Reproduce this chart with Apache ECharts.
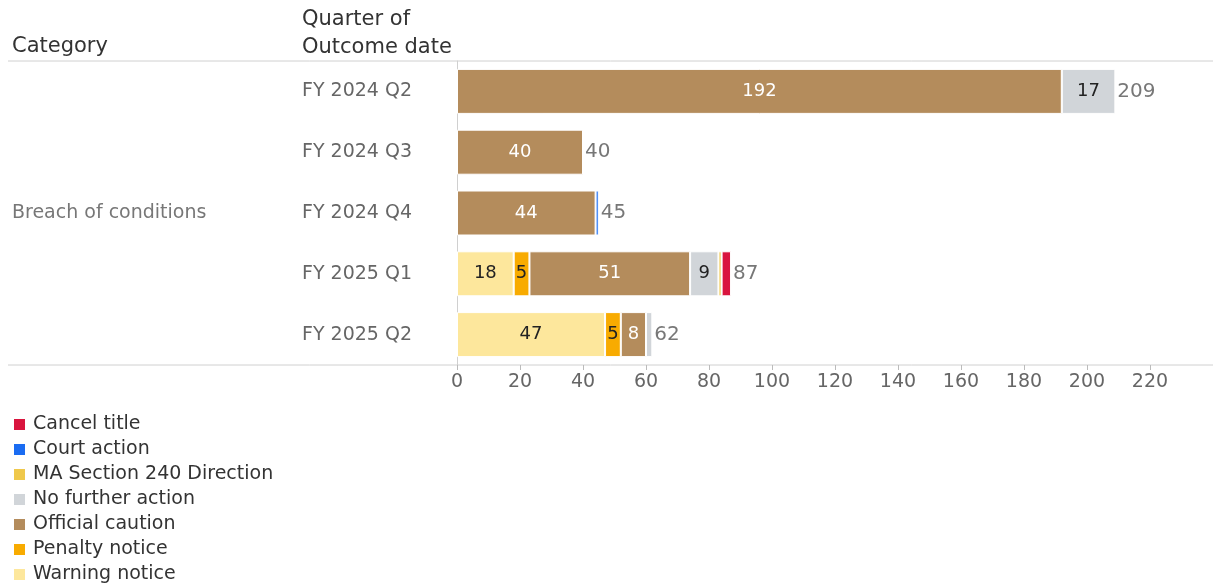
<!DOCTYPE html>
<html><head><meta charset="utf-8">
<script src="https://cdn.jsdelivr.net/npm/echarts@6/dist/echarts.min.js"></script>
<style>html,body{margin:0;padding:0;background:#fff}#c{width:1213px;height:588px}</style>
</head><body><div id="c"></div>
<script>
const quarters = ['FY 2024 Q2','FY 2024 Q3','FY 2024 Q4','FY 2025 Q1','FY 2025 Q2'];
const warningNotice = [0, 0, 0, 18, 47];
const penaltyNotice = [0, 0, 0, 5, 5];
const officialCaution = [192, 40, 44, 51, 8];
const noFurtherAction = [17, 0, 0, 9, 2];
const maSection240 = [0, 0, 0, 1, 0];
const courtAction = [0, 0, 1, 0, 0];
const cancelTitle = [0, 0, 0, 3, 0];
const xTicks = [0,20,40,60,80,100,120,140,160,180,200,220];
const legendOrder = ['Cancel title','Court action','MA Section 240 Direction','No further action','Official caution','Penalty notice','Warning notice'];

const FONT = '"DejaVu Sans"';
const stackDefs = [
  ['Warning notice', warningNotice, '#fde79c', '#222'],
  ['Penalty notice', penaltyNotice, '#f8ab00', '#222'],
  ['Official caution', officialCaution, '#b48c5c', '#fff'],
  ['No further action', noFurtherAction, '#d1d5d9', '#222'],
  ['MA Section 240 Direction', maSection240, '#efc84b', '#222'],
  ['Court action', courtAction, '#1a6cf2', '#222'],
  ['Cancel title', cancelTitle, '#d9153e', '#222']
];
const totals = quarters.map((q,i)=>stackDefs.reduce((s,d)=>s+d[1][i],0));

const series = stackDefs.map(([name,data,color,lc])=>({
  name, type:'bar', stack:'a', data: data.map(v=>v===0?null:v), barWidth:45,
  itemStyle:{color, borderColor:'#fff', borderWidth:1},
  label:{show:true, position:'inside', color:lc, fontFamily:FONT, fontSize:18,
    formatter:p=>p.value>=5?String(p.value):''},
  emphasis:{disabled:true}
}));
series.push({
  name:'total', type:'scatter', data: totals.map((t,i)=>[t,quarters[i]]), symbolSize:0,
  label:{show:true, position:'right', distance:2, color:'#555', fontFamily:FONT, fontSize:20,
    formatter:p=>String(p.value[0])},
  silent:true, tooltip:{show:false}
});

const chart = echarts.init(document.getElementById('c'));
chart.setOption({
  animation:false,
  textStyle:{fontFamily:FONT},
  grid:{left:457, right:-2, top:61, height:304, containLabel:false},
  legend:{
    data:legendOrder, orient:'vertical', left:12, top:415, height:175, padding:0,
    itemWidth:13, itemHeight:13, itemGap:6, icon:'rect', selectedMode:false,
    textStyle:{fontFamily:FONT, fontSize:19, lineHeight:19, color:'#333', padding:[0,0,0,2]}
  },
  xAxis:{type:'value', min:0, max:240, interval:20,
    axisLine:{show:false}, splitLine:{show:false},
    axisTick:{show:true, length:5, lineStyle:{color:'#bbb'}},
    axisLabel:{color:'#666', fontSize:19, fontFamily:FONT, margin:8, showMaxLabel:false}},
  yAxis:{type:'category', data:quarters, inverse:true,
    axisLine:{show:true, lineStyle:{color:'#d0d0d0'}}, axisTick:{show:false},
    axisLabel:{align:'left', margin:155, color:'#666', fontSize:19, fontFamily:FONT}},
  graphic:[
    {type:'line', shape:{x1:8,y1:61,x2:1213,y2:61}, style:{stroke:'#d0d0d0', lineWidth:1}},
    {type:'line', shape:{x1:8,y1:365,x2:1213,y2:365}, style:{stroke:'#d0d0d0', lineWidth:1}},
    {type:'text', left:12, top:36, style:{text:'Category', fill:'#333', font:'21px '+FONT}},
    {type:'text', left:302, top:6, style:{text:'Quarter of\nOutcome date', fill:'#333', font:'21px '+FONT, lineHeight:28}},
    {type:'text', left:12, top:204, style:{text:'Breach of conditions', fill:'#777', font:'19px '+FONT}}
  ],
  series
});
</script></body></html>
